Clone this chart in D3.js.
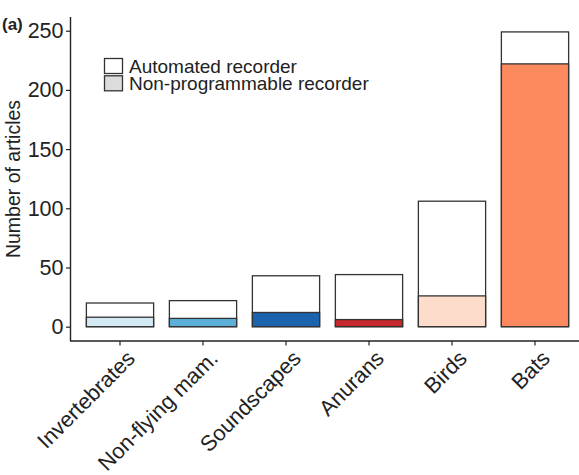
<!DOCTYPE html>
<html><head><meta charset="utf-8">
<script src="https://cdn.jsdelivr.net/npm/d3@7"></script>
<style>body{margin:0;background:#fff}svg{display:block}text{font-family:Arial,"Liberation Sans",sans-serif}</style>
</head><body><svg id="c" width="579" height="475"></svg>
<script>
const categories = ["Invertebrates","Non-flying mam.","Soundscapes","Anurans","Birds","Bats"];
const automatedTotal = [20, 22, 43, 44, 106, 249];
const nonProgrammable = [8, 7, 12, 6, 26, 222];
const colors = ["#d3eaf5","#5cb0d8","#1b63ad","#c8272b","#fddccb","#fc8a5e"];
const yTicks = [0, 50, 100, 150, 200, 250];
const legendLabels = ["Automated recorder","Non-programmable recorder"];

const FONT = "Arial, 'Liberation Sans', sans-serif";
const svg = d3.select("#c");
const x = d3.scaleBand().domain(categories).range([78.5, 576.5]).paddingInner(0.19).paddingOuter(0.095);
const y = d3.scaleLinear().domain([-12.1, 261.6]).range([341, 17]);

const data = categories.map((c,i)=>({c, total: automatedTotal[i], np: nonProgrammable[i], col: colors[i]}));

// bars
const g = svg.append("g");
g.selectAll("rect.tot").data(data).join("rect").attr("class","tot")
  .attr("x", d=>x(d.c)).attr("width", x.bandwidth())
  .attr("y", d=>y(d.total)).attr("height", d=>y(0)-y(d.total))
  .attr("fill","#fff").attr("stroke","#333").attr("stroke-width",1.3);
g.selectAll("rect.np").data(data).join("rect").attr("class","np")
  .attr("x", d=>x(d.c)).attr("width", x.bandwidth())
  .attr("y", d=>y(d.np)).attr("height", d=>y(0)-y(d.np))
  .attr("fill", d=>d.col).attr("stroke","#333").attr("stroke-width",1.3);

// axes
const ya = svg.append("g").attr("transform","translate(70.5,0)")
  .call(d3.axisLeft(y).tickValues(yTicks).tickSize(4.5).tickPadding(2.5));
ya.select(".domain").attr("d", `M0,${y.range()[1]}V${y.range()[0]}`).attr("stroke","#222").attr("stroke-width",1.4);
ya.selectAll(".tick line").attr("stroke","#222").attr("stroke-width",1.2);
ya.selectAll(".tick text").attr("font-size",21.5).attr("fill","#222").attr("font-family",FONT);

const xa = svg.append("g").attr("transform","translate(0,341)")
  .call(d3.axisBottom(x).tickSize(4.5).tickSizeOuter(0));
xa.select(".domain").attr("d","M70,0H579").attr("stroke","#222").attr("stroke-width",1.4);
xa.selectAll(".tick line").attr("stroke","#222").attr("stroke-width",1.2);
xa.selectAll(".tick text")
  .attr("font-size",21.8).attr("fill","#222").attr("font-family",FONT)
  .attr("text-anchor","end").attr("dy",0)
  .attr("transform","translate(5,7.5) rotate(-45)").attr("y",0).attr("x",0)
  .attr("dominant-baseline","hanging");

// y label
svg.append("text").attr("transform","translate(20,179) rotate(-90)")
  .attr("text-anchor","middle").attr("font-size",19.5).attr("fill","#222").attr("font-family",FONT).text("Number of articles");

// panel tag
svg.append("text").attr("x",2).attr("y",30).attr("font-size",17).attr("font-weight","bold").attr("fill","#222").attr("font-family",FONT).text("(a)");

// legend
const lg = svg.append("g");
const legFills = ["#fff","#dcdcdc"];
legendLabels.forEach((t,i)=>{
  lg.append("rect").attr("x",104.5).attr("y",58.5+i*17.3).attr("width",18).attr("height",15)
    .attr("fill",legFills[i]).attr("stroke","#333").attr("stroke-width",1.3);
  lg.append("text").attr("x",129).attr("y",72.5+i*17.3).attr("font-size",19).attr("fill","#222").attr("font-family",FONT).text(t);
});
</script></body></html>
